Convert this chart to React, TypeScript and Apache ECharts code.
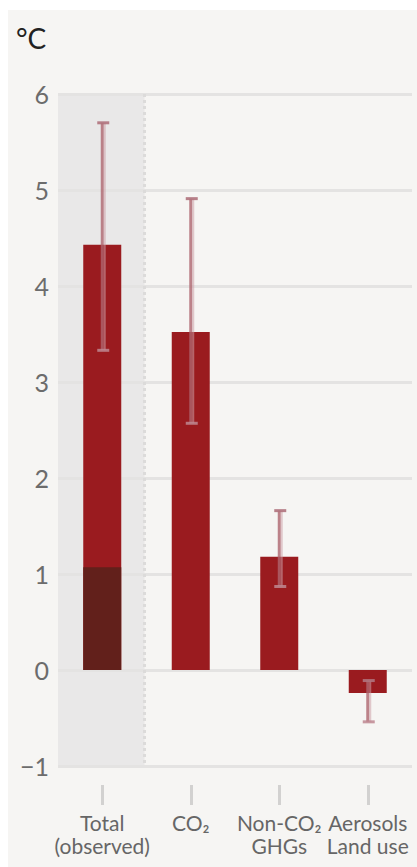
import React, { useEffect, useRef } from "react";
import * as echarts from "echarts";

// Contributions to warming, °C
const categories = ["Total\n(observed)", "CO₂", "Non-CO₂\nGHGs", "Aerosols\nLand use"];
const barValues = [4.43, 3.52, 1.18, -0.24];
const observedBase = [1.07, null, null, null];
const errLow = [3.33, 2.57, 0.87, -0.54];
const errHigh = [5.7, 4.91, 1.66, -0.11];
const yMin = -1;
const yMax = 6;
const yInterval = 1;
const unitLabel = "°C";

const RED = "#9a1b1f";
const DARK = "#62201b";

export default function App() {
  const ref = useRef<HTMLDivElement>(null);

  useEffect(() => {
    document.body.style.margin = "0";
    if (!ref.current) return;
    const chart = echarts.init(ref.current, undefined, { renderer: "svg" });

    const option: any = {
      animation: false,
      grid: { left: 50, right: 5, top: 84, bottom: 101, containLabel: false },
      graphic: [
        {
          type: "text",
          left: 8,
          top: 14,
          style: {
            text: unitLabel,
            fontFamily: "Lato",
            fontSize: 28,
            fill: "#222222",
          },
        },
      ],
      xAxis: [
        {
          type: "category",
          data: categories,
          axisLine: { show: false },
          axisTick: { show: false },
          splitLine: { show: false },
          axisLabel: {
            margin: 45,
            fontFamily: "Lato",
            fontSize: 21,
            lineHeight: 23,
            color: "#666666",
            interval: 0,
          },
        },
        {
          type: "category",
          data: categories,
          position: "bottom",
          offset: 19,
          axisLine: { show: false },
          axisTick: {
            show: true,
            alignWithLabel: true,
            length: 20,
            lineStyle: { color: "#d2d1d0", width: 3 },
          },
          axisLabel: { show: false },
          splitLine: { show: false },
        },
      ],
      yAxis: {
        type: "value",
        min: yMin,
        max: yMax,
        interval: yInterval,
        axisLine: { show: false },
        axisTick: { show: false },
        splitLine: { show: true, lineStyle: { color: "#e4e3e2", width: 3 } },
        axisLabel: {
          margin: 9,
          fontFamily: "Lato",
          fontSize: 25,
          color: "#6c6c6c",
          formatter: (v: number) => (v < 0 ? "\u2212" + Math.abs(v) : String(v)),
        },
      },
      series: [
        {
          // shaded band behind the observed total
          type: "custom",
          xAxisIndex: 0,
          z: -1,
          silent: true,
          data: [[0, yMax, yMin]],
          renderItem: (params: any, api: any) => {
            const top = api.coord([api.value(0), api.value(1)]);
            const bottom = api.coord([api.value(0), api.value(2)]);
            const w = api.size([1, 0])[0];
            const left = top[0] - w / 2;
            return {
              type: "rect",
              shape: { x: left, y: top[1], width: w - 2, height: bottom[1] - top[1] },
              style: { fill: "#e9e8e8" },
            };
          },
        },
        {
          // dotted divider at the band's right edge
          type: "custom",
          xAxisIndex: 0,
          z: 1,
          silent: true,
          data: [[0, yMax, yMin]],
          renderItem: (params: any, api: any) => {
            const top = api.coord([api.value(0), api.value(1)]);
            const bottom = api.coord([api.value(0), api.value(2)]);
            const w = api.size([1, 0])[0];
            const x = top[0] + w / 2 - 2;
            return {
              type: "line",
              shape: { x1: x, y1: top[1], x2: x, y2: bottom[1] },
              style: { stroke: "#dcdbda", lineWidth: 3, lineDash: [3, 3] },
            };
          },
        },
        {
          name: "Warming",
          type: "bar",
          xAxisIndex: 0,
          barWidth: 38,
          data: barValues,
          itemStyle: { color: RED },
          z: 2,
        },
        {
          name: "Observed base",
          type: "bar",
          xAxisIndex: 0,
          barWidth: 38,
          barGap: "-100%",
          data: observedBase,
          itemStyle: { color: DARK },
          z: 3,
        },
        {
          name: "Range",
          type: "custom",
          xAxisIndex: 0,
          z: 4,
          silent: true,
          encode: { x: 0, y: [1, 2] },
          data: categories.map((_, i) => [i, errLow[i], errHigh[i]]),
          renderItem: (params: any, api: any) => {
            const lo = api.coord([api.value(0), api.value(1)]);
            const hi = api.coord([api.value(0), api.value(2)]);
            const x = lo[0] + 1;
            const capHalf = 6;
            return {
              type: "group",
              children: [
                {
                  type: "line",
                  shape: { x1: x - 1, y1: hi[1], x2: x - 1, y2: lo[1] },
                  style: { stroke: "rgba(174,101,110,0.8)", lineWidth: 3 },
                },
                {
                  type: "line",
                  shape: { x1: x + 1.5, y1: hi[1], x2: x + 1.5, y2: lo[1] },
                  style: { stroke: "rgba(205,160,168,0.55)", lineWidth: 2 },
                },
                {
                  type: "line",
                  shape: { x1: x - capHalf, y1: hi[1], x2: x + capHalf, y2: hi[1] },
                  style: { stroke: "rgba(176,115,125,0.9)", lineWidth: 3 },
                },
                {
                  type: "line",
                  shape: { x1: x - capHalf, y1: lo[1], x2: x + capHalf, y2: lo[1] },
                  style: { stroke: "rgba(190,135,145,0.85)", lineWidth: 3 },
                },
              ],
            };
          },
        },
      ],
    };

    chart.setOption(option);
    return () => chart.dispose();
  }, []);

  return (
    <div
      ref={ref}
      style={{
        position: "absolute",
        left: 8,
        top: 10,
        width: 409,
        height: 857,
        background: "#f6f5f3",
      }}
    />
  );
}
